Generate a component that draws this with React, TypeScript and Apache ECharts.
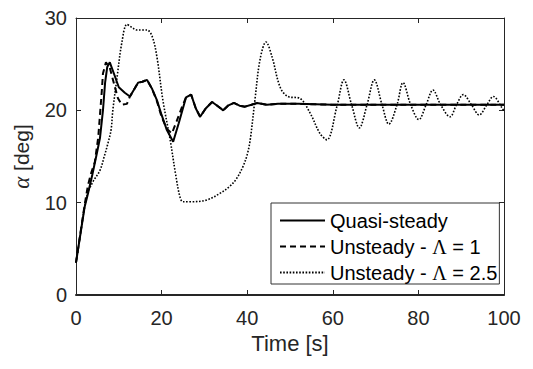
import React, { useEffect, useRef } from "react";
import * as echarts from "echarts";

// Quasi-steady (solid)
const qsTime = [0, 1, 2, 2.8, 3.8, 4.9, 5.6, 6.3, 6.8, 7.3, 7.9, 9, 10, 11.4, 12.6, 13.5, 14.5, 15.5, 16.6, 17.8, 18.9, 20, 21.2, 22.7, 24, 25.7, 26.9, 28, 29, 30.3, 31.8, 33, 34.4, 35.5, 36.9, 38.2, 39.5, 41, 42.3, 44.6, 47.2, 52, 60, 70, 80, 90, 100];
const qsAlpha = [3.5, 6.5, 9.5, 11, 13, 15.4, 17, 20, 23, 24.7, 25.2, 23.8, 22.5, 21.9, 21.5, 22.2, 23, 23.1, 23.3, 22.3, 21.1, 19.5, 17.9, 16.6, 18.6, 21.4, 21.7, 20.2, 19.3, 20.2, 20.9, 20.5, 20, 20.5, 20.8, 20.5, 20.4, 20.6, 20.8, 20.6, 20.7, 20.7, 20.6, 20.6, 20.6, 20.6, 20.6];

// Unsteady - Lambda = 1 (dashed)
const u1Time = [0, 1, 2, 2.8, 3.6, 4.4, 5.2, 6, 6.3, 7, 7.9, 9.1, 9.8, 10.7, 11.9, 12.6, 13.5, 14.5, 15.5, 16.6, 17.8, 18.9, 20, 21.2, 22.4, 23.5, 24.8, 25.7, 26.9, 28, 29, 30.3, 31.8, 33, 34.4, 35.5, 36.9, 38.2, 39.5, 41, 42.3, 44.6, 47.2, 52, 60, 70, 80, 90, 100];
const u1Alpha = [3.5, 6.6, 9.7, 11.9, 13.3, 14.4, 17.1, 21.9, 24, 25.2, 24.6, 22.5, 21.3, 20.6, 20.7, 21.5, 22.2, 23, 23.1, 23.3, 22.3, 21, 19.3, 18, 17.5, 18.8, 20.4, 21.4, 21.7, 20.2, 19.3, 20.2, 20.9, 20.5, 20, 20.5, 20.8, 20.5, 20.4, 20.6, 20.8, 20.6, 20.7, 20.7, 20.6, 20.6, 20.6, 20.6, 20.6];

// Unsteady - Lambda = 2.5 (dotted)
const u25Time = [0, 1, 2, 2.8, 4, 5.6, 6.6, 7.5, 8.2, 8.6, 9.6, 10.7, 11.9, 13, 14.3, 15.5, 16.6, 17.8, 18.9, 20.3, 22, 23.3, 24.3, 25, 27, 30.6, 33.6, 36, 37.5, 39, 40, 40.7, 41.8, 43, 44.4, 45.8, 47.7, 49.5, 52.3, 54.7, 57, 58.6, 61, 62.6, 64.4, 66.2, 68, 69.7, 71.5, 73.1, 75, 76.4, 78.2, 80.1, 81.8, 83.4, 85.2, 87.4, 88.9, 90.5, 92.4, 94.2, 96, 97.5, 99.5, 100];
const u25Alpha = [3.5, 6.5, 9.5, 11.1, 12.3, 13.5, 15, 16.5, 17.9, 20, 23.6, 27.3, 29.3, 29, 28.7, 28.7, 28.7, 28, 25.8, 21.1, 16.8, 13, 10.6, 10.1, 10.1, 10.3, 11, 11.8, 12.6, 13.9, 15.2, 16.8, 21.1, 25.5, 27.4, 25.8, 22.5, 21.5, 21.3, 19.7, 17.5, 16.8, 20.5, 23.3, 20.6, 18.1, 20.6, 23.3, 20.6, 18.5, 20.6, 23, 20.6, 19, 20.6, 22.2, 20.6, 19.3, 20.6, 21.7, 20.6, 19.5, 20.6, 21.5, 20.3, 19.9];

const seriesNames = ["Quasi-steady", "Unsteady - Λ = 1", "Unsteady - Λ = 2.5"];

const FONT = "Liberation Sans, Arial, Helvetica, sans-serif";
const SERIF = "Liberation Serif, Times New Roman, serif";
const AXIS = "#262626";

export default function App() {
  const ref = useRef<HTMLDivElement>(null);
  useEffect(() => {
    const chart = echarts.init(ref.current!, null, { renderer: "svg" });
    const pair = (t: number[], a: number[]) => t.map((x, i) => [x, a[i]]);
    const hiddenAxis = {
      show: true,
      axisLine: { show: true, onZero: false, lineStyle: { color: AXIS, width: 1 } },
      axisTick: { show: true, inside: true, length: 5, lineStyle: { color: AXIS, width: 1 } },
      axisLabel: { show: false },
      splitLine: { show: false },
    };
    chart.setOption({
      animation: false,
      textStyle: { fontFamily: FONT },
      grid: { left: 76, right: 29, top: 18, bottom: 74 },
      xAxis: [
        {
          type: "value",
          min: 0,
          max: 100,
          interval: 20,
          position: "bottom",
          axisLine: { show: true, onZero: false, lineStyle: { color: AXIS, width: 2 } },
          axisTick: { show: true, inside: true, length: 5, lineStyle: { color: AXIS, width: 1 } },
          axisLabel: { color: AXIS, fontSize: 20, fontFamily: FONT, margin: 13 },
          splitLine: { show: false },
          name: "Time [s]",
          nameLocation: "middle",
          nameGap: 37,
          nameTextStyle: { color: AXIS, fontSize: 22, fontFamily: FONT },
        },
        { type: "value", min: 0, max: 100, interval: 20, position: "top", ...hiddenAxis },
      ],
      yAxis: [
        {
          type: "value",
          min: 0,
          max: 30,
          interval: 10,
          position: "left",
          axisLine: { show: true, onZero: false, lineStyle: { color: AXIS, width: 1 } },
          axisTick: { show: true, inside: true, length: 5, lineStyle: { color: AXIS, width: 1 } },
          axisLabel: { color: AXIS, fontSize: 20, fontFamily: FONT, margin: 9 },
          splitLine: { show: false },
          name: "{a|α} [deg]",
          nameLocation: "middle",
          nameGap: 43,
          nameTextStyle: {
            color: AXIS,
            fontSize: 21,
            fontFamily: FONT,
            rich: {
              a: { fontFamily: SERIF, fontStyle: "italic", fontSize: 23, color: AXIS },
            },
          },
        },
        { type: "value", min: 0, max: 30, interval: 10, position: "right", ...hiddenAxis },
      ],
      legend: {
        show: true,
        orient: "vertical",
        left: 271,
        top: 203,
        data: seriesNames,
        backgroundColor: "#ffffff",
        borderColor: "#333333",
        borderWidth: 1,
        borderRadius: 0,
        padding: [7, 2, 1, 8],
        itemGap: 5,
        itemWidth: 45,
        itemHeight: 14,
        itemStyle: { opacity: 0 },
        formatter: (name: string) => name.replace("Λ", "{g|Λ}"),
        textStyle: {
          color: "#000",
          fontSize: 20,
          lineHeight: 21,
          fontFamily: FONT,
          rich: {
            g: { fontFamily: SERIF, fontSize: 20, color: "#000" },
          },
        },
      },
      series: [
        {
          name: seriesNames[0],
          type: "line",
          data: pair(qsTime, qsAlpha),
          symbol: "none",
          showSymbol: false,
          z: 4,
          lineStyle: { color: "#000", width: 2, type: "solid" },
          itemStyle: { color: "#000" },
        },
        {
          name: seriesNames[1],
          type: "line",
          data: pair(u1Time, u1Alpha),
          symbol: "none",
          showSymbol: false,
          z: 3,
          lineStyle: { color: "#000", width: 2, type: [6, 4] },
          itemStyle: { color: "#000" },
        },
        {
          name: seriesNames[2],
          type: "line",
          data: pair(u25Time, u25Alpha),
          symbol: "none",
          showSymbol: false,
          smooth: 0.35,
          z: 2,
          lineStyle: { color: "#000", width: 1.6, type: [1.6, 1.6] },
          itemStyle: { color: "#000" },
        },
      ],
    });
    return () => chart.dispose();
  }, []);
  return <div ref={ref} style={{ position: "absolute", left: 0, top: 0, width: 533, height: 369, background: "#fff" }} />;
}
